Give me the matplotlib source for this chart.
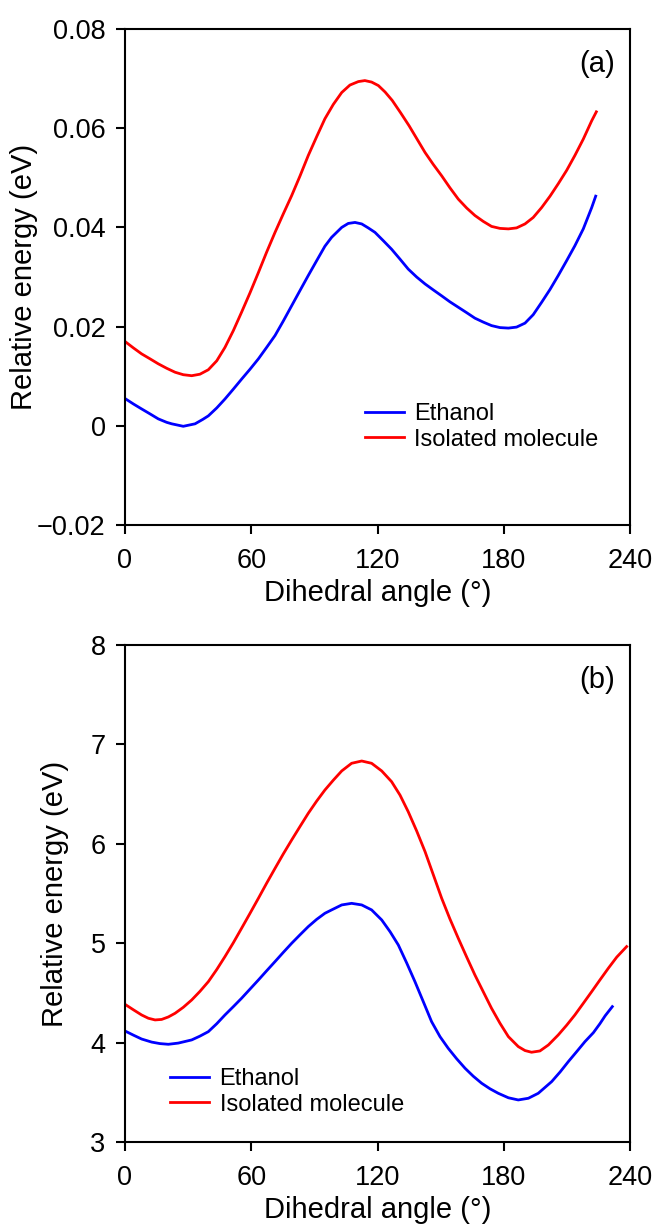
import matplotlib.pyplot as plt
import numpy as np
#
plt.rcParams['font.family']=['Liberation Sans','DejaVu Sans']
#
#--panel (a): relative energy (eV) vs dihedral angle (deg), isolated molecule
ang_a_iso=[0,4.0,7.9,11.9,15.8,19.8,23.8,27.7,31.7,35.6,39.6,43.6,47.5,51.5,55.4,59.4,63.4,67.3,71.3,75.2,
           79.2,83.2,87.1,91.1,95.0,99.0,103.0,106.9,110.9,114.0,117.2,120.4,123.6,127.0,131.0,135.0,138.8,142.6,
           146.5,150.5,154.4,158.4,162.4,166.3,170.3,174.2,178.2,182.2,186.1,190.1,194.0,198.0,202.0,205.9,209.9,
           213.8,217.8,221.8,224.0]
e_a_iso=[0.0170,0.0157,0.0145,0.0135,0.0125,0.0116,0.0108,0.0103,0.0101,0.0104,0.0113,0.0131,0.0158,0.0192,0.0229,
         0.0268,0.0309,0.0350,0.0390,0.0427,0.0464,0.0504,0.0545,0.0583,0.0619,0.0648,0.0672,0.0687,0.0694,0.0696,
         0.0693,0.0686,0.0673,0.0656,0.0631,0.0605,0.0578,0.0551,0.0527,0.0504,0.0480,0.0457,0.0439,0.0424,0.0412,
         0.0402,0.0398,0.0397,0.0399,0.0407,0.0420,0.0440,0.0463,0.0488,0.0515,0.0545,0.0578,0.0615,0.0633]
#--panel (a), ethanol
ang_a_eth=[0,4.0,7.9,11.9,15.8,19.8,22.2,27.7,33.3,37.0,39.6,43.6,47.5,51.5,55.4,59.4,63.4,67.3,71.3,75.2,
           79.2,83.2,87.1,91.1,95.0,98.2,103.0,106.1,109.3,112.5,115.6,118.8,122.8,126.7,130.7,134.6,138.6,142.6,
           146.5,150.5,154.4,158.4,162.4,166.3,170.3,174.2,178.2,182.2,186.1,190.1,194.0,198.0,202.0,205.9,209.9,
           213.8,217.8,221.8,223.7]
e_a_eth=[0.0055,0.0044,0.0034,0.0024,0.0014,0.0007,0.0004,-0.0001,0.0004,0.0013,0.0020,0.0036,0.0054,0.0074,0.0094,
         0.0114,0.0135,0.0158,0.0182,0.0211,0.0242,0.0273,0.0303,0.0333,0.0362,0.0380,0.0400,0.0408,0.0410,0.0407,
         0.0399,0.0390,0.0373,0.0356,0.0336,0.0316,0.0300,0.0286,0.0274,0.0262,0.0250,0.0239,0.0228,0.0217,0.0209,
         0.0202,0.0198,0.0197,0.0199,0.0207,0.0224,0.0249,0.0275,0.0303,0.0333,0.0363,0.0397,0.0440,0.0463]
#
#--panel (b), isolated molecule
ang_b_iso=[0,4.0,7.9,11.1,14.3,17.4,20.6,23.8,27.7,31.7,35.6,39.6,43.6,47.5,51.5,55.4,59.4,63.4,67.3,71.3,
           75.2,79.2,83.2,87.1,91.1,95.0,99.0,103.0,107.7,112.5,117.2,122.0,126.7,130.7,134.6,138.6,142.6,146.5,
           150.5,154.4,158.4,162.4,166.3,170.3,174.2,178.2,182.2,186.9,190.1,193.2,197.2,201.2,205.9,209.9,213.8,
           217.8,221.8,225.7,229.7,233.7,238.4]
e_b_iso=[4.385,4.330,4.278,4.245,4.228,4.233,4.258,4.295,4.355,4.429,4.515,4.613,4.735,4.865,5.005,5.150,5.300,
         5.452,5.603,5.753,5.897,6.038,6.175,6.307,6.430,6.541,6.640,6.733,6.810,6.833,6.810,6.733,6.625,6.490,
         6.323,6.130,5.921,5.690,5.452,5.245,5.049,4.860,4.680,4.510,4.345,4.195,4.060,3.960,3.920,3.903,3.916,
         3.976,4.077,4.175,4.278,4.395,4.513,4.630,4.748,4.860,4.966]
#--panel (b), ethanol
ang_b_eth=[0,4.0,7.9,12.7,16.6,20.6,25.3,31.7,35.6,39.6,43.6,47.5,51.5,55.4,59.4,63.4,67.3,71.3,75.2,79.2,
           83.2,87.1,91.1,95.0,98.2,103.0,107.7,112.5,117.2,122.0,126.0,129.9,133.9,137.8,141.8,145.7,149.7,153.6,
           157.6,161.6,165.5,169.5,173.5,177.4,182.2,186.9,191.7,196.4,202.8,206.8,210.7,214.7,218.6,222.6,225.7,
           228.2,231.6]
e_b_eth=[4.117,4.075,4.036,4.005,3.990,3.983,3.995,4.027,4.065,4.110,4.190,4.278,4.362,4.446,4.538,4.630,4.722,
         4.815,4.907,4.999,5.085,5.167,5.240,5.301,5.335,5.385,5.401,5.385,5.335,5.234,5.115,4.982,4.800,4.613,
         4.410,4.211,4.060,3.943,3.838,3.742,3.662,3.591,3.535,3.490,3.445,3.423,3.440,3.490,3.608,3.705,3.809,
         3.910,4.010,4.100,4.190,4.270,4.362]
#
xticks=[0,60,120,180,240]
yticks_a=[-0.02,0,0.02,0.04,0.06,0.08]
ylabels_a=['\u22120.02','0','0.02','0.04','0.06','0.08']
yticks_b=[3,4,5,6,7,8]
#
fig=plt.figure(figsize=(6.54,12.26),dpi=100)
ax1=fig.add_axes([125/654,1-525/1226,505/654,496/1226])
ax2=fig.add_axes([125/654,1-1142/1226,505/654,497/1226])
#
panels=[(ax1,ang_a_eth,e_a_eth,ang_a_iso,e_a_iso,yticks_a,ylabels_a,(-0.02,0.08),'(a)',(0.475,0.198),-0.172),
        (ax2,ang_b_eth,e_b_eth,ang_b_iso,e_b_iso,yticks_b,[str(v) for v in yticks_b],(3,8),'(b)',(0.089,0.101),-0.111)]
for ax,xe,ye,xi,yi,yt,yl,ylim,tag,legpos,ylx in panels:
    ax.plot(xe,ye,color='#0000ff',lw=2.0,label='Ethanol')
    ax.plot(xi,yi,color='#ff0000',lw=2.0,label='Isolated molecule')
    ax.set_xlim(0,240)
    ax.set_ylim(*ylim)
    ax.set_xticks(xticks)
    ax.set_yticks(yt)
    ax.set_yticklabels(yl)
    for s in ax.spines.values():
        s.set_linewidth(1.5)
    ax.tick_params(direction='out',length=6.5,width=1.5,labelsize=19.5,top=False,right=False)
    ax.tick_params(axis='x',pad=10)
    ax.tick_params(axis='y',pad=7.5)
    ax.set_xlabel('Dihedral angle (\u00b0)',fontsize=21,labelpad=4)
    ax.set_ylabel('Relative energy (eV)',fontsize=21)
    ax.yaxis.set_label_coords(ylx,0.5)
    ax.text(0.935,0.93,tag,transform=ax.transAxes,fontsize=21,ha='center',va='center')
    ax.legend(loc='center left',bbox_to_anchor=legpos,frameon=False,fontsize=17,
              handlelength=1.65,handletextpad=0.45,labelspacing=0.15,borderpad=0,borderaxespad=0)
#
plt.savefig('out.png',dpi=100)
